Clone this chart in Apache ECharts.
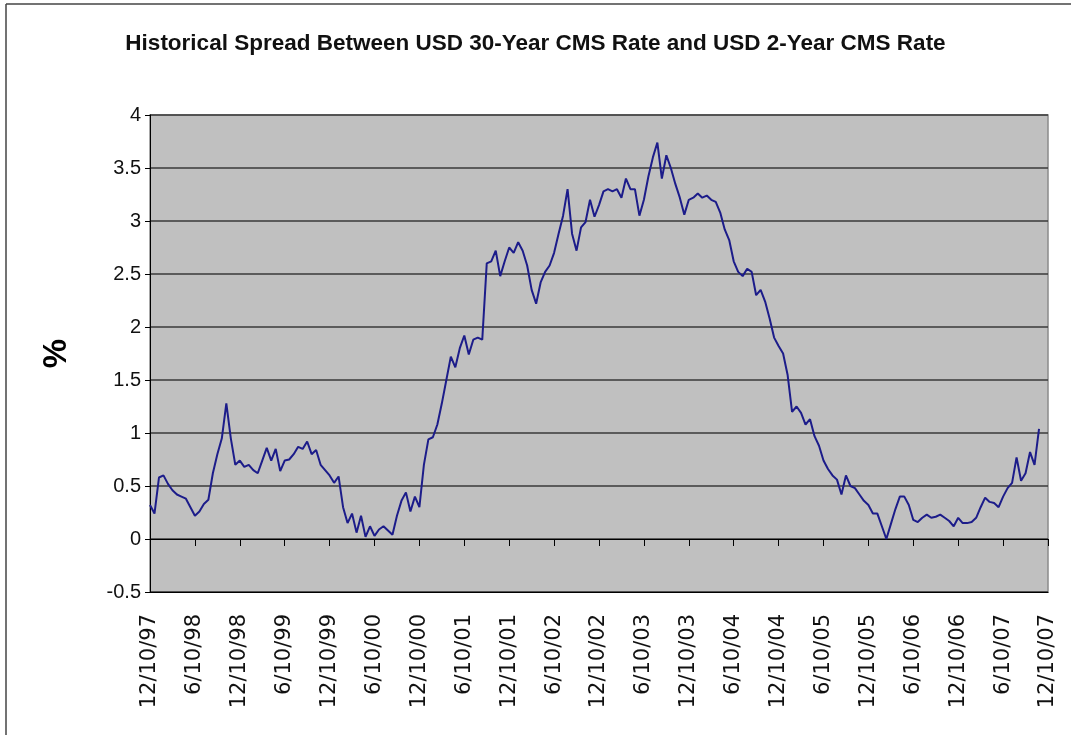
<!DOCTYPE html>
<html><head><meta charset="utf-8">
<script src="https://cdn.jsdelivr.net/npm/echarts@6/dist/echarts.min.js"></script>
<style>html,body{margin:0;padding:0;background:#fff}#c{width:1071px;height:735px}</style>
</head><body><div id="c"></div>
<script>
const titleText = 'Historical Spread Between USD 30-Year CMS Rate and USD 2-Year CMS Rate';
const yAxisName = '%';
const tickLabels = ['12/10/97','6/10/98','12/10/98','6/10/99','12/10/99','6/10/00','12/10/00','6/10/01','12/10/01','6/10/02','12/10/02','6/10/03','12/10/03','6/10/04','12/10/04','6/10/05','12/10/05','6/10/06','12/10/06','6/10/07','12/10/07'];
// spread values (%), sampled at 1/10 of a half-year step from 12/10/97
const spread = [
0.32,0.24,0.58,0.60,0.52,0.46,0.42,0.40,0.38,0.30,
0.22,0.26,0.33,0.37,0.62,0.80,0.95,1.28,0.95,0.70,
0.74,0.68,0.70,0.65,0.62,0.74,0.86,0.74,0.85,0.64,
0.74,0.75,0.80,0.87,0.85,0.92,0.80,0.84,0.70,0.65,
0.60,0.53,0.59,0.30,0.15,0.24,0.06,0.22,0.02,0.12,
0.03,0.09,0.12,0.08,0.04,0.22,0.36,0.44,0.26,0.40,
0.30,0.70,0.94,0.96,1.08,1.28,1.50,1.72,1.62,1.80,
1.92,1.74,1.88,1.90,1.88,2.60,2.62,2.72,2.48,2.62,
2.75,2.70,2.80,2.72,2.58,2.35,2.22,2.42,2.52,2.58,
2.70,2.88,3.05,3.30,2.88,2.72,2.94,2.99,3.20,3.04,
3.15,3.28,3.30,3.28,3.30,3.22,3.40,3.30,3.30,3.05,
3.20,3.42,3.60,3.74,3.40,3.62,3.50,3.35,3.22,3.06,
3.20,3.22,3.26,3.22,3.24,3.20,3.18,3.08,2.92,2.82,
2.62,2.52,2.48,2.55,2.52,2.30,2.35,2.24,2.08,1.90,
1.82,1.75,1.55,1.20,1.25,1.19,1.08,1.13,0.97,0.88,
0.74,0.66,0.60,0.56,0.42,0.60,0.50,0.48,0.42,0.36,
0.32,0.24,0.24,0.12,0.00,0.14,0.28,0.40,0.40,0.32,
0.18,0.16,0.20,0.23,0.20,0.21,0.23,0.20,0.17,0.12,
0.20,0.15,0.15,0.16,0.20,0.30,0.39,0.35,0.34,0.30,
0.40,0.48,0.53,0.77,0.55,0.62,0.82,0.70,1.04
];
const stepsPerTick = 10;
const xMax = (tickLabels.length - 1) * stepsPerTick;
const seriesData = spread.map((v, i) => [i, v]);

const chart = echarts.init(document.getElementById('c'), null, {renderer: 'canvas'});
chart.setOption({
  animation: false,
  backgroundColor: '#ffffff',
  title: {
    text: titleText, left: 'center', top: 27,
    textStyle: {fontFamily: 'Liberation Sans', fontWeight: 'bold', fontSize: 22.5, color: '#111'}
  },
  graphic: [
    {type: 'line', shape: {x1: 6, y1: 4, x2: 1071, y2: 4}, style: {stroke: '#444', lineWidth: 1.5}},
    {type: 'line', shape: {x1: 6, y1: 4, x2: 6, y2: 735}, style: {stroke: '#444', lineWidth: 1.5}}
  ],
  grid: {
    left: 150, right: 23, top: 115, bottom: 143,
    show: true, backgroundColor: '#c0c0c0', borderColor: '#8a8a8a', borderWidth: 1.5
  },
  xAxis: [
    {
      type: 'value', min: 0, max: xMax, interval: stepsPerTick, position: 'bottom',
      axisLine: {show: true, onZero: true, lineStyle: {color: '#000', width: 1}},
      axisTick: {show: true, length: 7, lineStyle: {color: '#000', width: 1}},
      axisLabel: {show: false},
      splitLine: {show: false}
    },
    {
      type: 'value', min: 0, max: xMax, interval: stepsPerTick, position: 'bottom',
      axisLine: {show: true, onZero: false, lineStyle: {color: '#000', width: 1}},
      axisTick: {show: false},
      axisLabel: {
        show: true, rotate: 90, margin: 22, fontSize: 21, fontFamily: 'DejaVu Sans', color: '#111',
        formatter: v => tickLabels[Math.round(v / stepsPerTick)] || ''
      },
      splitLine: {show: false}
    }
  ],
  yAxis: {
    type: 'value', min: -0.5, max: 4, interval: 0.5,
    name: yAxisName, nameLocation: 'middle', nameGap: 77, nameRotate: 90,
    nameTextStyle: {fontFamily: 'Liberation Sans', fontWeight: 'bold', fontSize: 33, color: '#000'},
    axisLine: {show: true, lineStyle: {color: '#000', width: 1}},
    axisTick: {show: true, length: 5, lineStyle: {color: '#000'}},
    axisLabel: {fontFamily: 'Liberation Sans', fontSize: 20, color: '#111', margin: 9},
    splitLine: {show: true, lineStyle: {color: '#3a3a3a', width: 1.5}}
  },
  series: [{
    type: 'line', xAxisIndex: 0, data: seriesData, showSymbol: false,
    lineStyle: {color: '#1c1c8a', width: 2}
  }]
});
</script>
</body></html>
